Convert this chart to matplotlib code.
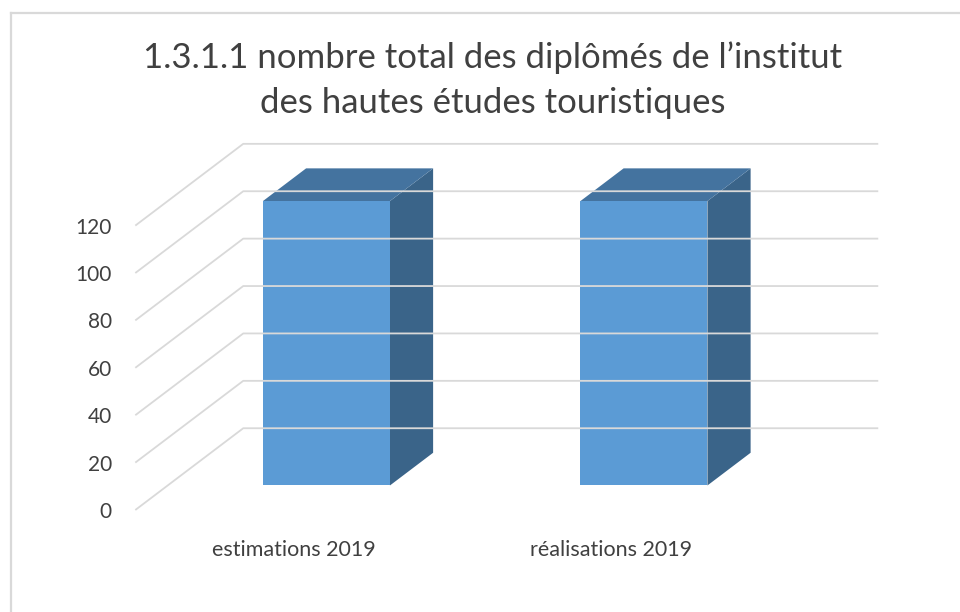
import matplotlib
matplotlib.use("Agg")
import matplotlib.pyplot as plt
from matplotlib.patches import Polygon
from matplotlib.lines import Line2D

categories = ["estimations 2019", "réalisations 2019"]
values = [120, 120]
y_ticks = [0, 20, 40, 60, 80, 100, 120]
title = "1.3.1.1 nombre total des diplômés de l’institut\ndes hautes études touristiques"

# Excel-like oblique 3D: depth 0 = front plane, 1 = back wall
DEPTH_X = 0.34      # category units per full depth
DEPTH_Y = 34.5      # value units per full depth
BAR_W = 0.4
BAR_Z0, BAR_Z1 = 0.3, 0.7

FRONT = "#5b9bd5"
TOP = "#44739f"
SIDE = "#3a6489"
GRID = "#d9d9d9"
TEXT = "#404040"

plt.rcParams["font.family"] = ["Lato", "DejaVu Sans"]


def proj(x, y, z):
    return (x + z * DEPTH_X, y + z * DEPTH_Y)


fig = plt.figure(figsize=(9.6, 6.12), dpi=100)
ax = fig.add_axes([0, 0, 1, 1])
# pixel mapping: x=0 at px 135.3 (317.5 px/unit), y=0 at py 510 (2.37 px/unit)
ax.set_xlim(-135.3 / 317.5, (960 - 135.3) / 317.5)
ax.set_ylim(-(612 - 510) / 2.37, 510 / 2.37)
ax.axis("off")

n = len(categories)

# gridlines: side wall diagonals + back wall horizontals
for v in y_ticks:
    p0 = proj(0, v, 0)
    p1 = proj(0, v, 1)
    p2 = proj(n, v, 1)
    ax.plot([p0[0], p1[0], p2[0]], [p0[1], p1[1], p2[1]],
            color=GRID, lw=1.3, solid_capstyle="butt")
    ax.text(-0.074, v, str(v), ha="right", va="center_baseline",
            fontsize=15, color=TEXT)

# bars
for i, val in enumerate(values):
    xl = i + 0.5 - BAR_W / 2
    xr = i + 0.5 + BAR_W / 2
    side = [proj(xr, 0, BAR_Z0), proj(xr, 0, BAR_Z1),
            proj(xr, val, BAR_Z1), proj(xr, val, BAR_Z0)]
    top = [proj(xl, val, BAR_Z0), proj(xr, val, BAR_Z0),
           proj(xr, val, BAR_Z1), proj(xl, val, BAR_Z1)]
    front = [proj(xl, 0, BAR_Z0), proj(xr, 0, BAR_Z0),
             proj(xr, val, BAR_Z0), proj(xl, val, BAR_Z0)]
    ax.add_patch(Polygon(side, closed=True, facecolor=SIDE, edgecolor="none"))
    ax.add_patch(Polygon(top, closed=True, facecolor=TOP, edgecolor="none"))
    ax.add_patch(Polygon(front, closed=True, facecolor=FRONT, edgecolor="none"))

# category labels
for i, cat in enumerate(categories):
    ax.text(i + 0.5, -19.5, cat, ha="center", va="baseline",
            fontsize=15.5, color=TEXT)

# title
for k, line in enumerate(title.split("\n")):
    fig.text(493 / 960, 1 - (68.3 + 45 * k) / 612, line, ha="center",
             va="baseline", fontsize=25, color=TEXT)

# chart border (cropped at right and bottom)
fig.add_artist(Line2D([11 / 960, 11 / 960], [0, 1 - 13 / 612],
                      transform=fig.transFigure, color=GRID, lw=1.6))
fig.add_artist(Line2D([11 / 960, 1], [1 - 13 / 612, 1 - 13 / 612],
                      transform=fig.transFigure, color=GRID, lw=1.6))

fig.savefig("out.png", dpi=100)
